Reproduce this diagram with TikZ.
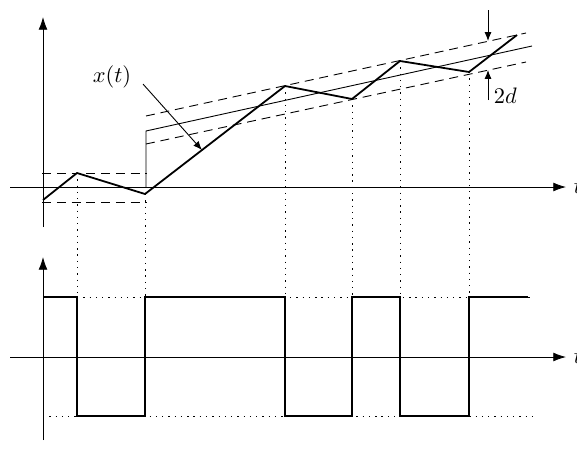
\documentclass[tikz,border=0pt]{standalone}
\usepackage{amsmath,amssymb}
\usepackage{tikz}
\usetikzlibrary{arrows.meta,calc}
\tikzset{
  axis/.style={-{Latex[length=2mm,width=1.4mm]}, thin},
  signal/.style={thick, line join=miter},
  band/.style={thin, dash pattern=on 4pt off 2.6pt},
  guide/.style={thin, dash pattern=on 0.6pt off 2.2pt},
  pointer/.style={-{Latex[length=1.4mm,width=1.1mm]}, thin},
}
\begin{document}
\begin{tikzpicture}[x=0.157mm, y=-0.157mm]
  \useasboundingbox (0,0) rectangle (577,463);

  % levels of the lower plot
  \coordinate (hi) at (0,297);
  \coordinate (lo) at (0,416);

  % upper plot: axes
  \draw[axis] (10,187) -- (566,187) node[right] (t1) {$t$};
  \draw[axis] (43,227) -- (43,17);

  % upper plot: turning points of x(t)
  \coordinate (z0) at (43,200);
  \coordinate (z1) at (77,173);
  \coordinate (z2) at (145,194);
  \coordinate (z3) at (285,86);
  \coordinate (z4) at (352,99);
  \coordinate (z5) at (400,61);
  \coordinate (z6) at (469,72);
  \coordinate (z7) at (517,35);

  % bands of width 2d
  \draw[band] (42,173) -- (147,173);
  \draw[band] (42,202) -- (147,202);
  \draw[thin] (146,187) -- (146,131) -- (532,46);
  \draw[band] (146,116) -- (526,33);
  \draw[band] (146,144) -- (526,62);

  \draw[signal] (z0) -- (z1) -- (z2) -- (z3) -- (z4) -- (z5) -- (z6) -- (z7);

  % label x(t)
  \node (xt) at (112,77) {$x(t)$};
  \coordinate (xtip) at ($(z2)!0.407!(z3)$);
  \draw[pointer] ([shift={(4,-12)}]xt.south east) -- (xtip);

  % label 2d
  \coordinate (dtop) at (488,10);
  \coordinate (dup) at (488,41);
  \coordinate (dbot) at (488,100);
  \coordinate (dlow) at (488,70);
  \draw[pointer] (dtop) -- (dup);
  \draw[pointer] (dbot) -- (dlow);
  \node[right] (twod) at (486,96) {$2d$};

  % guides down to the lower plot
  \foreach \p in {z1,z2,z3,z4,z5,z6}
    \draw[guide] (\p) -- (\p |- lo);
  \draw[guide] (z1 |- hi) -- (534,297);
  \draw[guide] (43,416) -- (534,416);

  % lower plot: axes
  \draw[axis] (10,357) -- (566,357) node[right] (t2) {$t$};
  \draw[axis] (43,440) -- (43,257);

  % lower plot: sign of the error
  \draw[signal] (43,297) -| (z1 |- lo) -| (z2 |- hi) -| (z3 |- lo)
    -| (z4 |- hi) -| (z5 |- lo) -| (z6 |- hi) -- (528,297);
\end{tikzpicture}
\end{document}
